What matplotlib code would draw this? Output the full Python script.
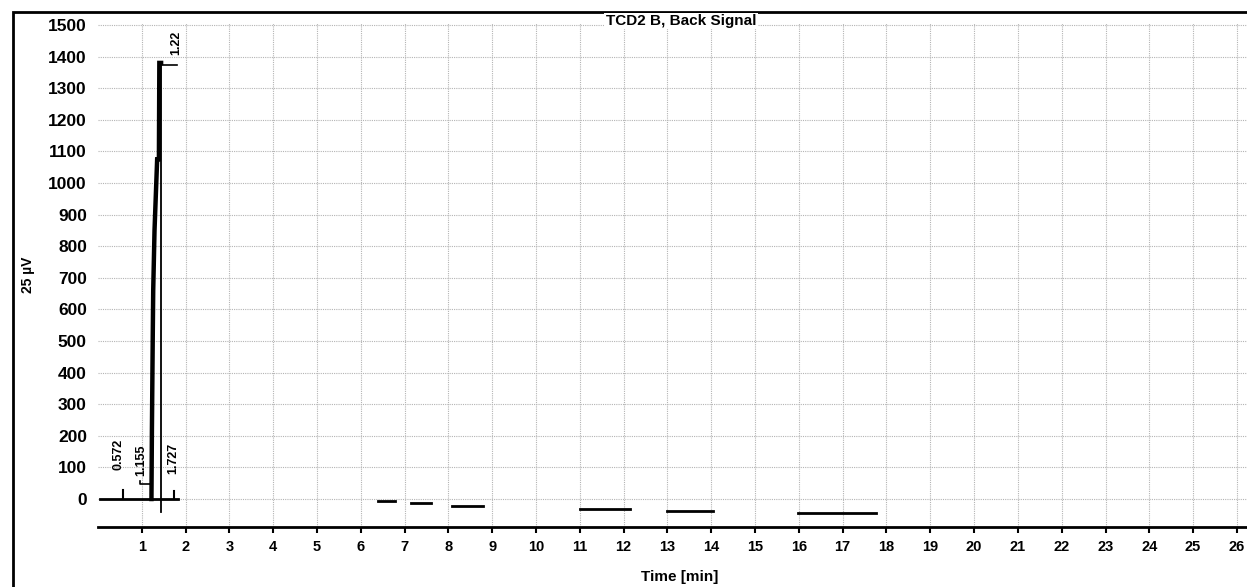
import matplotlib
matplotlib.use("Agg")
import matplotlib.pyplot as plt
from matplotlib.patches import Rectangle

plt.rcParams['font.family'] = ['Liberation Sans', 'DejaVu Sans']

# chromatogram data (time in min, signal in 25 uV units)
x_ticks = list(range(1, 27))
y_ticks = list(range(0, 1600, 100))

# main peak: rising edge and falling edge
rise_t = [1.22, 1.23, 1.25, 1.26, 1.29, 1.35, 1.39, 1.40, 1.44]
rise_y = [0, 210, 520, 660, 850, 1075, 1075, 1380, 1380]
fall_t = [1.44, 1.44]
fall_y = [1380, -40]

# baseline before the peak
base_t = [0.05, 1.83]
base_y = [0, 0]

# drifting baseline segments later in the run
seg_start = [6.39, 7.15, 8.08, 11.0, 13.0, 15.98]
seg_end = [6.78, 7.60, 8.79, 12.15, 14.04, 17.76]
seg_level = [-6, -14, -21, -32, -38, -44]

# retention time labels: text, x, y of label
rt_labels = ['0.572', '1.155', '1.727', '1.22']
rt_x = [0.46, 0.98, 1.71, 1.78]
rt_y = [140, 122, 128, 1443]

fig = plt.figure(figsize=(12.47, 5.87), dpi=100)
ax = fig.add_axes([0.0786, 0.1022, 0.9214, 0.8579])

for t in x_ticks:
    ax.axvline(t, color='#b4b4b4', lw=0.8, ls=(0, (1, 1)), zorder=1)
for v in y_ticks:
    ax.axhline(v, color='#b4b4b4', lw=0.8, ls=(0, (1, 1)), zorder=1)

ax.plot(base_t, base_y, color='black', lw=2, zorder=3)
ax.plot(rise_t, rise_y, color='black', lw=3.2, zorder=4, solid_joinstyle='miter')
ax.plot(fall_t, fall_y, color='black', lw=1.3, zorder=4)
for a, b, lv in zip(seg_start, seg_end, seg_level):
    ax.plot([a, b], [lv, lv], color='black', lw=2, zorder=3)

# small peak markers
ax.plot([0.572, 0.572], [0, 30], color='black', lw=1.5)
ax.plot([0.96, 0.96, 1.23], [58, 47, 47], color='black', lw=1.2)
ax.plot([1.727, 1.727], [0, 25], color='black', lw=1.5)
ax.plot([1.46, 1.80], [1375, 1375], color='black', lw=1.2)

for s, x, y in zip(rt_labels, rt_x, rt_y):
    ax.text(x, y, s, rotation=90, ha='center', va='center',
            fontsize=9, fontweight='bold')

ax.set_xlim(0, 26.23)
ax.set_ylim(-88.6, 1505)
ax.set_xticks(x_ticks)
ax.set_yticks(y_ticks)
ax.set_xticklabels([str(t) for t in x_ticks], fontsize=10.5, fontweight='bold')
ax.set_yticklabels([str(v) for v in y_ticks], fontsize=12.5, fontweight='bold')
ax.tick_params(axis='x', direction='out', length=4, width=1.5, pad=5)
ax.tick_params(axis='y', length=0, pad=8)
for side in ['top', 'right', 'left']:
    ax.spines[side].set_visible(False)
ax.spines['bottom'].set_linewidth(2)

fig.text(681 / 1247, 1 - 21 / 587, 'TCD2 B, Back Signal', ha='center', va='center',
         fontsize=11, fontweight='bold',
         bbox=dict(facecolor='white', edgecolor='none', pad=1))
fig.text(680 / 1247, 1 - 577 / 587, 'Time [min]', ha='center', va='center',
         fontsize=11, fontweight='bold')
fig.text(28 / 1247, 1 - 275 / 587, '25 µV', rotation=90, ha='center', va='center',
         fontsize=10, fontweight='bold')

fig.patches.append(Rectangle((13 / 1247, -0.1), 1.2, 1.1 - 12 / 587,
                             transform=fig.transFigure, fill=False,
                             edgecolor='black', lw=2))

plt.savefig('out.png', dpi=100)
